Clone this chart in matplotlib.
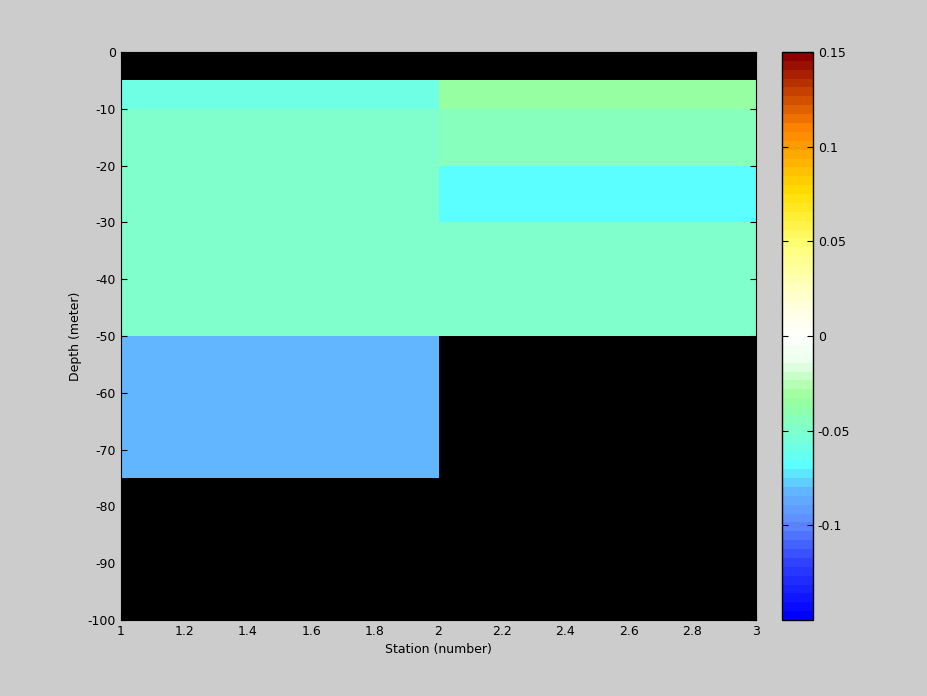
import numpy as np
import matplotlib
matplotlib.use('Agg')
import matplotlib.pyplot as plt
from matplotlib.colors import LinearSegmentedColormap

plt.rcParams['axes.unicode_minus'] = False
plt.rcParams['font.family'] = 'DejaVu Sans'

# Grid edges of the section
station_edges = [1, 2, 3]
depth_edges = [0, -5, -10, -20, -30, -50, -75, -100]

# Cell values (rows = depth layers, cols = stations), NaN = no data
station1 = [np.nan, -0.060, -0.050, -0.050, -0.050, -0.084, np.nan]
station2 = [np.nan, -0.033, -0.045, -0.069, -0.050, np.nan, np.nan]

colorbar_ticks = [-0.1, -0.05, 0, 0.05, 0.1, 0.15]

# Anchor colours of the diverging map
anchors = [
    (0.000, (0.00, 0.00, 1.00)),
    (0.100, (0.20, 0.27, 1.00)),
    (0.167, (0.37, 0.55, 1.00)),
    (0.220, (0.38, 0.70, 1.00)),
    (0.270, (0.36, 1.00, 1.00)),
    (0.333, (0.50, 1.00, 0.80)),
    (0.390, (0.60, 1.00, 0.60)),
    (0.455, (0.92, 1.00, 0.92)),
    (0.500, (1.00, 1.00, 1.00)),
    (0.560, (1.00, 1.00, 0.85)),
    (0.667, (1.00, 1.00, 0.45)),
    (0.757, (1.00, 0.87, 0.00)),
    (0.870, (1.00, 0.52, 0.00)),
    (1.000, (0.55, 0.00, 0.00)),
]
cmap = LinearSegmentedColormap.from_list('section', anchors, N=64)
cmap.set_bad('black')

values = np.ma.masked_invalid(np.column_stack([station1, station2]))

fig = plt.figure(figsize=(9.28, 6.96), dpi=100)
fig.patch.set_facecolor('#cccccc')

ax = fig.add_axes([121 / 928, 1 - 620 / 696, 635 / 928, 568 / 696])
ax.set_facecolor('black')
mesh = ax.pcolormesh(station_edges, depth_edges, values, cmap=cmap,
                     vmin=-0.15, vmax=0.15, shading='flat')

ax.set_xlim(1, 3)
ax.set_ylim(-100, 0)
ax.set_xticks(np.arange(1, 3.01, 0.2))
ax.set_xticklabels(['1', '1.2', '1.4', '1.6', '1.8', '2', '2.2', '2.4', '2.6', '2.8', '3'])
ax.set_yticks(np.arange(-100, 1, 10))
ax.tick_params(direction='in', labelsize=9, length=4, top=True, right=True)
ax.set_xlabel('Station (number)', fontsize=9)
ax.set_ylabel('Depth (meter)', fontsize=9)

cax = fig.add_axes([782 / 928, 1 - 620 / 696, 31 / 928, 568 / 696])
cb = fig.colorbar(mesh, cax=cax, ticks=colorbar_ticks)
cb.ax.set_yticklabels(['-0.1', '-0.05', '0', '0.05', '0.1', '0.15'])
cb.ax.tick_params(direction='in', labelsize=9, length=4, left=True, right=True)
cb.outline.set_linewidth(1)

fig.savefig('out.png', dpi=100, facecolor=fig.get_facecolor())
